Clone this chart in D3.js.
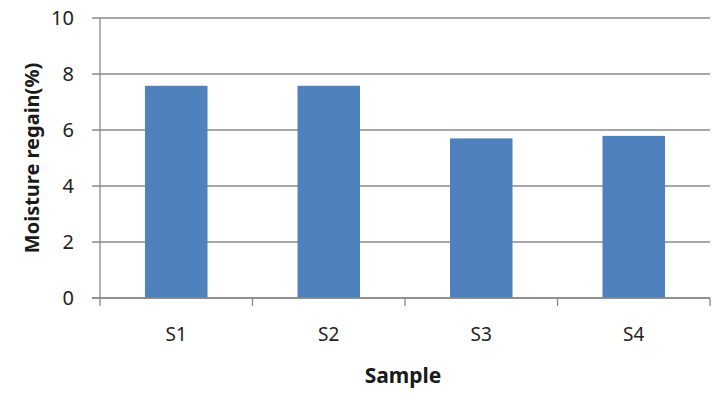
<!DOCTYPE html>
<html>
<head>
<meta charset="utf-8">
<script src="https://cdn.jsdelivr.net/npm/d3@7"></script>
<style>
  body { margin: 0; background: #fff; }
  svg { display: block; }
</style>
</head>
<body>
<div id="chart"></div>
<script>
// values
const samples = ["S1", "S2", "S3", "S4"];
const regain = [7.58, 7.58, 5.70, 5.79];
const yTicks = [0, 2, 4, 6, 8, 10];

const W = 718, H = 394;
const plotLeft = 100, plotRight = 710, plotTop = 18, plotBottom = 298;

const svg = d3.select("#chart").append("svg")
    .attr("width", W)
    .attr("height", H);

const x = d3.scaleBand().domain(samples).range([plotLeft, plotRight]).padding(0);
const y = d3.scaleLinear().domain([0, 10]).range([plotBottom, plotTop]);

const barW = x.bandwidth() * 0.41;

// gridlines
svg.append("g")
    .selectAll("line")
    .data(yTicks)
    .join("line")
    .attr("x1", plotLeft - 8)
    .attr("x2", plotRight)
    .attr("y1", d => y(d))
    .attr("y2", d => y(d))
    .attr("stroke", "#8a8a8a")
    .attr("stroke-width", 1.3);

// bars
svg.append("g")
    .selectAll("rect")
    .data(samples)
    .join("rect")
    .attr("x", (d, i) => x(d) + (x.bandwidth() - barW) / 2)
    .attr("y", (d, i) => y(regain[i]))
    .attr("width", barW)
    .attr("height", (d, i) => y(0) - y(regain[i]))
    .attr("fill", "#4f81bd");

// y axis line
svg.append("line")
    .attr("x1", plotLeft).attr("x2", plotLeft)
    .attr("y1", plotTop).attr("y2", plotBottom + 8)
    .attr("stroke", "#8a8a8a")
    .attr("stroke-width", 1.3);

// x axis line + ticks
svg.append("line")
    .attr("x1", plotLeft - 8).attr("x2", plotRight)
    .attr("y1", plotBottom).attr("y2", plotBottom)
    .attr("stroke", "#8a8a8a")
    .attr("stroke-width", 1.3);

svg.append("g")
    .selectAll("line")
    .data(samples)
    .join("line")
    .attr("x1", d => x(d) + x.bandwidth())
    .attr("x2", d => x(d) + x.bandwidth())
    .attr("y1", plotBottom)
    .attr("y2", plotBottom + 8)
    .attr("stroke", "#8a8a8a")
    .attr("stroke-width", 1.3);

// tick labels
svg.append("g")
    .selectAll("text")
    .data(yTicks)
    .join("text")
    .attr("x", 74)
    .attr("y", d => y(d))
    .attr("dy", "0.35em")
    .attr("text-anchor", "end")
    .attr("font-family", "Noto Sans")
    .attr("font-size", 20)
    .attr("fill", "#222")
    .text(d => d);

svg.append("g")
    .selectAll("text")
    .data(samples)
    .join("text")
    .attr("x", d => x(d) + x.bandwidth() / 2)
    .attr("y", 334)
    .attr("dy", "0.35em")
    .attr("text-anchor", "middle")
    .attr("font-family", "Noto Sans")
    .attr("font-size", 19)
    .attr("fill", "#222")
    .text(d => d);

// axis titles
svg.append("text")
    .attr("x", 403)
    .attr("y", 376)
    .attr("dy", "0.35em")
    .attr("text-anchor", "middle")
    .attr("font-family", "Noto Sans")
    .attr("font-weight", "bold")
    .attr("font-size", 21)
    .attr("fill", "#1a1a1a")
    .text("Sample");

svg.append("text")
    .attr("transform", "translate(32,158) rotate(-90)")
    .attr("dy", "0.35em")
    .attr("text-anchor", "middle")
    .attr("font-family", "Noto Sans")
    .attr("font-weight", "bold")
    .attr("font-size", 20)
    .attr("fill", "#1a1a1a")
    .text("Moisture regain(%)");
</script>
</body>
</html>
